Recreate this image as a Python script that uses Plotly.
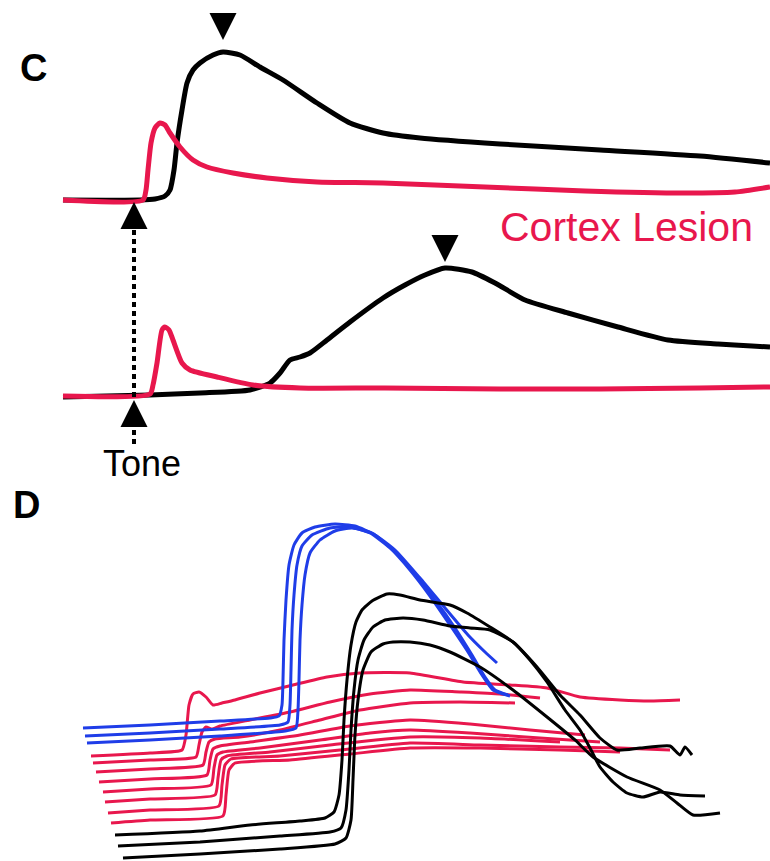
import plotly.graph_objects as go

RED = "#E8174D"
BLUE = "#1F3DE8"
BLACK = "#000000"
FONT = "Liberation Sans, Arial, Helvetica, sans-serif"

# ---------------- Panel C: averaged responses, time from tone onset ----------------
# control trial (amplitude above its own baseline)
ctrl_black_t = [-71, 6, 21, 31, 36, 40, 43, 48, 53, 59, 66, 79, 89, 106, 126, 149, 183, 216, 249, 286, 366, 466, 566, 636]
ctrl_black_a = [0, 0, 1, 4, 10, 30, 57, 90, 117, 130, 137, 145, 148, 145, 133, 120, 97, 77, 67, 62, 56, 50, 44, 37]
ctrl_red_t = [-71, 9, 12, 14, 17, 21, 26, 31, 36, 46, 59, 73, 99, 133, 183, 249, 351, 451, 551, 601, 636]
ctrl_red_a = [0, 0, 10, 30, 57, 72, 77, 75, 67, 53, 40, 33, 27, 22, 18, 17, 13, 9, 7, 8, 13]
ctrl_peak = (89, 148)

# cortex-lesion trial
les_black_t = [-71, 16, 66, 116, 136, 146, 156, 166, 176, 193, 216, 249, 271, 291, 311, 338, 361, 391, 434, 484, 534, 584, 618, 636]
les_black_a = [0, 2, 4, 7, 14, 24, 37, 40, 44, 57, 75, 99, 112, 122, 129, 125, 114, 97, 84, 70, 57, 53, 51, 50]
les_red_t = [-71, 16, 19, 23, 28, 31, 35, 39, 48, 56, 83, 119, 166, 251, 366, 466, 566, 636]
les_red_a = [1, 3, 12, 34, 67, 70, 67, 57, 34, 27, 20, 12, 9, 9, 8, 8, 9, 10]
les_peak = (311, 129)

TONE_T = 0

# ---------------- Panel D: individual trials, waterfall layout ----------------
blue_x = [
    [83, 150, 220, 270, 279, 282, 283, 284, 286, 289, 294, 302, 315, 335, 355, 375, 395, 415, 435, 455, 472, 485, 495, 508],
    [85, 150, 220, 280, 288, 290, 291, 292, 294, 297, 302, 312, 330, 350, 370, 390, 410, 430, 450, 468, 482, 493, 510],
    [87, 150, 220, 285, 296, 298, 299, 300, 302, 305, 310, 320, 335, 352, 372, 395, 420, 445, 468, 485, 497],
]
blue_y = [
    [133, 136, 140, 143, 145, 156, 181, 221, 261, 296, 316, 328, 334, 337, 335, 326, 309, 286, 261, 233, 206, 184, 171, 166],
    [125, 128, 132, 136, 139, 156, 191, 231, 266, 296, 315, 326, 333, 334, 328, 313, 291, 265, 236, 209, 186, 171, 165],
    [118, 121, 125, 130, 133, 151, 181, 221, 256, 286, 308, 321, 330, 333, 328, 311, 283, 253, 226, 209, 198],
]

red_x = [
    [91, 150, 182, 186, 189, 193, 199, 206, 213, 222, 235, 260, 293, 327, 360, 410, 463, 510, 547, 580, 620, 650, 680],
    [93, 150, 196, 199, 202, 206, 212, 220, 250, 290, 330, 370, 410, 460, 500, 540],
    [96, 150, 203, 206, 209, 215, 240, 280, 320, 360, 410, 460, 515],
    [99, 150, 207, 210, 213, 220, 250, 300, 350, 410, 470, 530, 585],
    [103, 150, 211, 214, 217, 223, 260, 320, 370, 410, 470, 540, 600],
    [105, 150, 215, 218, 221, 227, 270, 330, 410, 480, 560],
    [108, 150, 219, 222, 225, 231, 280, 340, 410, 480, 560, 620, 670],
    [111, 150, 223, 226, 229, 235, 290, 350, 410, 480, 560, 620],
]
red_y = [
    [105, 108, 111, 126, 156, 167, 169, 164, 156, 158, 161, 168, 176, 184, 188, 188, 179, 176, 173, 164, 161, 160, 161],
    [98, 101, 104, 116, 129, 134, 132, 135, 141, 149, 159, 167, 171, 169, 167, 163],
    [89, 92, 96, 109, 119, 122, 124, 131, 141, 151, 158, 159, 158],
    [79, 82, 86, 101, 112, 115, 119, 126, 135, 141, 137, 131, 126],
    [69, 72, 76, 93, 106, 109, 113, 121, 128, 131, 128, 123, 119],
    [59, 62, 66, 83, 101, 105, 109, 116, 124, 123, 119],
    [48, 51, 55, 76, 96, 102, 105, 111, 118, 116, 114, 113, 111],
    [38, 41, 45, 66, 91, 98, 101, 107, 113, 113, 111, 109],
]

black_x = [
    [115, 200, 250, 300, 325, 334, 339, 342, 344, 347, 351, 356, 362, 372, 387, 400, 420, 450, 467, 490, 513, 537, 560, 580, 600, 617, 640, 670, 680, 685, 692],
    [118, 200, 280, 330, 341, 346, 349, 351, 354, 358, 364, 373, 385, 403, 423, 450, 470, 490, 513, 530, 547, 565, 580, 590, 600, 613, 627, 643, 660, 680, 705],
    [123, 200, 280, 335, 346, 351, 353, 355, 358, 363, 371, 383, 393, 410, 430, 450, 480, 513, 547, 575, 593, 627, 660, 677, 693, 720],
]
black_y = [
    [26, 30, 36, 40, 43, 49, 66, 101, 141, 181, 216, 239, 251, 260, 267, 266, 261, 256, 248, 234, 219, 194, 166, 146, 123, 111, 113, 115, 106, 114, 106],
    [15, 19, 25, 29, 33, 51, 91, 131, 171, 201, 221, 234, 241, 243, 241, 235, 233, 231, 219, 201, 179, 151, 131, 113, 94, 79, 68, 64, 69, 66, 65],
    [3, 7, 12, 17, 23, 41, 81, 126, 161, 191, 209, 217, 219, 219, 216, 209, 194, 171, 144, 121, 104, 84, 71, 58, 46, 48],
]

# vertical spacing between the control and lesion traces in panel C
LESION_OFFSET = -197

fig = go.Figure()


def c_line(t, a, color, offset=0, width=5):
    fig.add_trace(go.Scatter(
        x=t, y=[v + offset for v in a], mode="lines",
        line=dict(color=color, width=width, shape="spline", smoothing=0.6),
        xaxis="x", yaxis="y", hoverinfo="skip"))


# panel C traces
c_line(ctrl_black_t, ctrl_black_a, BLACK)
c_line(ctrl_red_t, ctrl_red_a, RED)
c_line(les_black_t, les_black_a, BLACK, LESION_OFFSET)
c_line(les_red_t, les_red_a, RED, LESION_OFFSET)

# tone marker: dotted line joining the two onsets, plus arrowheads
fig.add_trace(go.Scatter(
    x=[TONE_T, TONE_T], y=[-30, LESION_OFFSET - 2], mode="lines",
    line=dict(color=BLACK, width=4, dash="5px,4px"),
    xaxis="x", yaxis="y", hoverinfo="skip"))
fig.add_trace(go.Scatter(
    x=[TONE_T, TONE_T], y=[LESION_OFFSET - 33, LESION_OFFSET - 47], mode="lines",
    line=dict(color=BLACK, width=4, dash="5px,4px"),
    xaxis="x", yaxis="y", hoverinfo="skip"))
fig.add_trace(go.Scatter(
    x=[TONE_T, TONE_T], y=[-2, LESION_OFFSET - 3], mode="markers",
    marker=dict(symbol="arrow-up", size=27, color=BLACK, line=dict(width=0)),
    xaxis="x", yaxis="y", cliponaxis=False, hoverinfo="skip"))

# peak markers above the black responses
fig.add_trace(go.Scatter(
    x=[ctrl_peak[0], les_peak[0]],
    y=[ctrl_peak[1] + 12, les_peak[1] + LESION_OFFSET + 6],
    mode="markers",
    marker=dict(symbol="arrow-down", size=27, color=BLACK, line=dict(width=0)),
    xaxis="x", yaxis="y", cliponaxis=False, hoverinfo="skip"))

# panel D traces
for xs, ys in zip(red_x, red_y):
    fig.add_trace(go.Scatter(
        x=xs, y=ys, mode="lines",
        line=dict(color=RED, width=3, shape="spline", smoothing=0.5),
        xaxis="x2", yaxis="y2", hoverinfo="skip"))
for xs, ys in zip(blue_x, blue_y):
    fig.add_trace(go.Scatter(
        x=xs, y=ys, mode="lines",
        line=dict(color=BLUE, width=3, shape="spline", smoothing=0.5),
        xaxis="x2", yaxis="y2", hoverinfo="skip"))
for xs, ys in zip(black_x, black_y):
    fig.add_trace(go.Scatter(
        x=xs, y=ys, mode="lines",
        line=dict(color=BLACK, width=3, shape="spline", smoothing=0.5),
        xaxis="x2", yaxis="y2", hoverinfo="skip"))

annotations = [
    dict(text="<b>C</b>", x=0.043, y=0.921, xref="paper", yref="paper",
         showarrow=False, font=dict(family=FONT, size=38, color=BLACK),
         xanchor="center", yanchor="middle"),
    dict(text="<b>D</b>", x=0.035, y=0.4135, xref="paper", yref="paper",
         showarrow=False, font=dict(family=FONT, size=38, color=BLACK),
         xanchor="center", yanchor="middle"),
    dict(text="Cortex Lesion", x=492, y=-27, xref="x", yref="y",
         showarrow=False, font=dict(family=FONT, size=41, color=RED),
         xanchor="center", yanchor="middle"),
    dict(text="Tone", x=8, y=-263, xref="x", yref="y",
         showarrow=False, font=dict(family=FONT, size=36, color=BLACK),
         xanchor="center", yanchor="middle"),
]

hidden = dict(visible=False, showgrid=False, zeroline=False, fixedrange=True)
fig.update_layout(
    width=770, height=861,
    margin=dict(l=0, r=0, t=0, b=0),
    paper_bgcolor="white", plot_bgcolor="rgba(0,0,0,0)",
    showlegend=False,
    xaxis=dict(domain=[0, 1], range=[-134, 636], anchor="y", **hidden),
    yaxis=dict(domain=[0.44251, 1], range=[-280, 200], anchor="x", **hidden),
    xaxis2=dict(domain=[0, 1], range=[0, 770], anchor="y2", **hidden),
    yaxis2=dict(domain=[0, 0.44251], range=[0, 381], anchor="x2", **hidden),
    annotations=annotations,
)

fig.write_html("out.html")
